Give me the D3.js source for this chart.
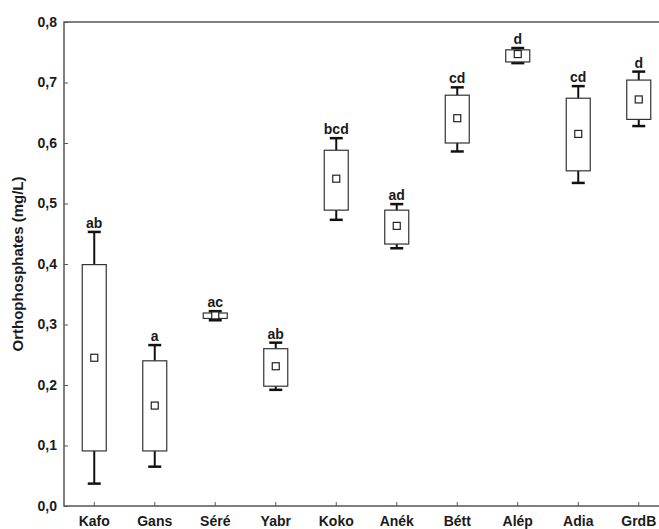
<!DOCTYPE html>
<html><head><meta charset="utf-8">
<script src="https://cdn.jsdelivr.net/npm/d3@7"></script>
<style>
html,body{margin:0;padding:0;background:#fff;}
svg{display:block;}
text{font-family:"Liberation Sans",Arial,sans-serif;font-weight:bold;fill:#1a1a1a;}
</style></head>
<body>
<script>
const categories = ["Kafo","Gans","Séré","Yabr","Koko","Anék","Bétt","Alép","Adia","GrdB"];
const means      = [0.245,0.166,0.315,0.231,0.541,0.463,0.641,0.747,0.615,0.672];
const boxLow     = [0.091,0.091,0.310,0.198,0.489,0.433,0.600,0.734,0.554,0.639];
const boxHigh    = [0.399,0.240,0.319,0.260,0.588,0.489,0.679,0.754,0.674,0.704];
const whiskLow   = [0.037,0.065,0.307,0.192,0.473,0.426,0.586,0.732,0.534,0.628];
const whiskHigh  = [0.453,0.266,0.322,0.270,0.608,0.499,0.692,0.757,0.694,0.718];
const letters    = ["ab","a","ac","ab","bcd","ad","cd","d","cd","d"];
const yTicks     = [0,0.1,0.2,0.3,0.4,0.5,0.6,0.7,0.8];
const yTitle     = "Orthophosphates (mg/L)";

const W = 659, H = 529;
const m = {left:64, top:22, right:669, bottom:506};
const svg = d3.select("body").append("svg").attr("width",W).attr("height",H);

const x = d3.scaleBand().domain(categories).range([m.left, m.right]).paddingInner(0).paddingOuter(0);
const y = d3.scaleLinear().domain([0,0.8]).range([m.bottom, m.top]);

const fmt = v => d3.format(".1f")(v).replace(".", ",");

// frame (left, top, bottom)
svg.append("path")
  .attr("d", `M${m.right},${m.top}H${m.left}V${m.bottom}H${m.right}`)
  .attr("fill","none").attr("stroke","#555").attr("stroke-width",1.5);

// y axis
const yAxis = svg.append("g").attr("transform",`translate(${m.left},0)`)
  .call(d3.axisRight(y).tickValues(yTicks).tickSize(4).tickFormat(""));
yAxis.select(".domain").remove();
yAxis.selectAll("line").attr("stroke","#555").attr("stroke-width",1);
svg.append("g").selectAll("text").data(yTicks).join("text")
  .attr("x", m.left-7).attr("y", d=>y(d)).attr("dy","0.35em")
  .attr("text-anchor","end").style("font-size","14px").text(fmt);

// x axis
const xAxis = svg.append("g").attr("transform",`translate(0,${m.bottom})`)
  .call(d3.axisTop(x).tickSize(4).tickFormat(""));
xAxis.select(".domain").remove();
xAxis.selectAll("line").attr("stroke","#555").attr("stroke-width",1);
svg.append("g").selectAll("text").data(categories).join("text")
  .attr("x", d=>x(d)+x.bandwidth()/2).attr("y", m.bottom+20)
  .attr("text-anchor","middle").style("font-size","14px").text(d=>d);

// y title
svg.append("text").attr("transform",`translate(23,${(m.top+m.bottom)/2}) rotate(-90)`)
  .attr("text-anchor","middle").style("font-size","15px").text(yTitle);

const bw = 24, cw = 13;
const g = svg.append("g").selectAll("g").data(categories).join("g")
  .attr("transform", d=>`translate(${x(d)+x.bandwidth()/2},0)`);

// whiskers
g.append("line").attr("x1",0).attr("x2",0).attr("y1",(d,i)=>y(boxHigh[i])).attr("y2",(d,i)=>y(whiskHigh[i]))
  .attr("stroke","#111").attr("stroke-width",2);
g.append("line").attr("x1",0).attr("x2",0).attr("y1",(d,i)=>y(boxLow[i])).attr("y2",(d,i)=>y(whiskLow[i]))
  .attr("stroke","#111").attr("stroke-width",2);
g.append("line").attr("x1",-cw/2).attr("x2",cw/2).attr("y1",(d,i)=>y(whiskHigh[i])).attr("y2",(d,i)=>y(whiskHigh[i]))
  .attr("stroke","#111").attr("stroke-width",2.5);
g.append("line").attr("x1",-cw/2).attr("x2",cw/2).attr("y1",(d,i)=>y(whiskLow[i])).attr("y2",(d,i)=>y(whiskLow[i]))
  .attr("stroke","#111").attr("stroke-width",2.5);

// boxes
g.append("rect").attr("x",-bw/2).attr("width",bw)
  .attr("y",(d,i)=>y(boxHigh[i])).attr("height",(d,i)=>y(boxLow[i])-y(boxHigh[i]))
  .attr("fill","#fff").attr("stroke","#333").attr("stroke-width",1.2);

// mean markers
g.append("rect").attr("x",-3.5).attr("width",7).attr("y",(d,i)=>y(means[i])-3.5).attr("height",7)
  .attr("fill","#fff").attr("stroke","#222").attr("stroke-width",1.2);

// letters
g.append("text").attr("y",(d,i)=>y(whiskHigh[i])-4).attr("text-anchor","middle")
  .style("font-size","14px").text((d,i)=>letters[i]);
</script>
</body></html>
